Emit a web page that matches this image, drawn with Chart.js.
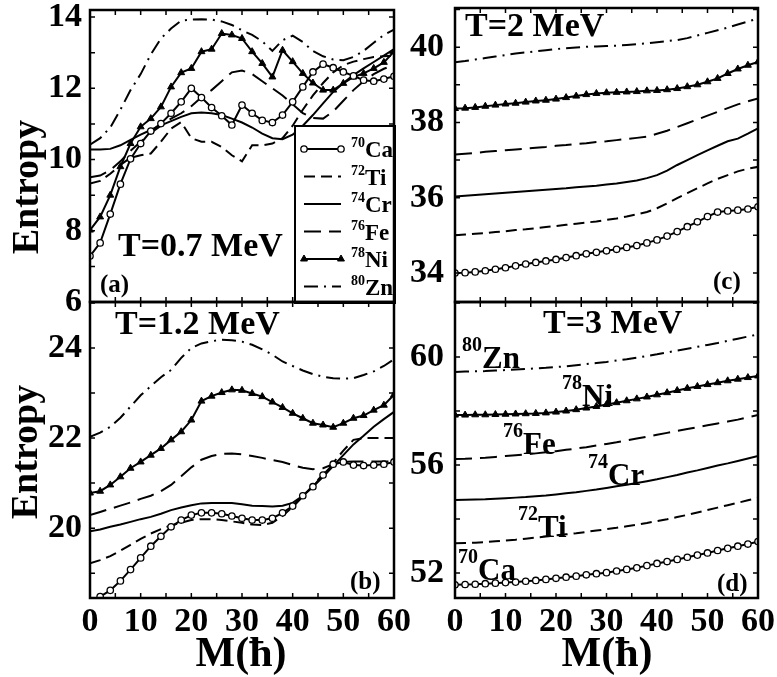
<!DOCTYPE html>
<html>
<head>
<meta charset="utf-8">
<script src="https://cdn.jsdelivr.net/npm/chart.js@4.4.1/dist/chart.umd.min.js"></script>
<style>
  body { margin: 0; background: #fff; }
  #wrap { position: relative; width: 777px; height: 677px; overflow: hidden; }
  canvas { position: absolute; }
</style>
</head>
<body>
<div id="wrap">
  <canvas id="pa" width="420" height="320" style="left:0;top:0;width:420px;height:320px"></canvas>
  <canvas id="pb" width="420" height="382" style="left:0;top:295px;width:420px;height:382px"></canvas>
  <canvas id="pc" width="377" height="320" style="left:400px;top:0;width:377px;height:320px"></canvas>
  <canvas id="pd" width="377" height="382" style="left:400px;top:295px;width:377px;height:382px"></canvas>
</div>
<script>
// angular momentum M (hbar), every 2
const M = [0,2,4,6,8,10,12,14,16,18,20,22,24,26,28,30,32,34,36,38,40,42,44,46,48,50,52,54,56,58,60];
const nuclei = ['Ca','Ti','Cr','Fe','Ni','Zn'];
const massNumbers = [70,72,74,76,78,80];

// (a) T = 0.7 MeV
const caA = [7.29,7.66,8.47,9.31,10.02,10.45,10.8,11.01,11.3,11.62,12.0,11.74,11.46,11.23,10.97,11.53,11.3,11.1,11.04,11.25,11.62,12.04,12.46,12.68,12.58,12.46,12.35,12.23,12.2,12.26,12.34];
const tiA = [9.33,9.4,9.6,9.85,10.05,10.12,10.17,10.5,10.87,11.05,10.6,10.5,10.5,10.35,10.12,9.95,10.4,10.4,10.45,10.6,10.95,11.4,11.8,12.15,12.45,12.65,12.75,12.82,12.88,12.9,12.92];
const crA = [10.28,10.28,10.3,10.4,10.55,10.7,10.83,10.96,11.08,11.2,11.3,11.32,11.3,11.25,11.15,11.04,10.9,10.73,10.6,10.57,10.7,10.95,11.25,11.58,11.9,12.15,12.37,12.56,12.74,12.92,13.1];
const feA = [9.5,9.55,9.7,9.95,10.25,10.5,10.75,10.95,11.15,11.3,11.5,11.75,11.95,12.2,12.45,12.5,12.4,12.2,12.0,11.8,11.55,11.3,11.17,11.15,11.35,11.65,11.95,12.2,12.4,12.55,12.65];
const niA = [8.02,8.39,9.0,9.8,10.45,10.92,11.15,11.48,12.04,12.44,12.56,13.03,13.1,13.54,13.5,13.4,13.03,12.7,12.32,13.07,12.75,12.42,12.15,11.95,11.95,12.14,12.32,12.42,12.56,12.73,13.03];
const znA = [10.42,10.6,10.9,11.4,11.95,12.4,12.95,13.4,13.68,13.9,13.93,13.94,13.93,13.88,13.78,13.63,13.5,13.32,13.05,13.35,13.48,13.3,13.05,12.9,12.81,12.79,12.88,13.05,13.28,13.5,13.65];

// (b) T = 1.2 MeV
const caB = [18.35,18.48,18.62,18.83,19.08,19.34,19.6,19.82,20.03,20.18,20.29,20.34,20.34,20.32,20.27,20.22,20.18,20.18,20.22,20.34,20.49,20.72,20.92,21.18,21.42,21.47,21.4,21.39,21.4,21.42,21.47];
const tiB = [19.22,19.29,19.38,19.5,19.63,19.76,19.88,19.98,20.06,20.12,20.18,20.2,20.2,20.18,20.15,20.12,20.08,20.07,20.12,20.27,20.47,20.7,20.95,21.2,21.45,21.72,21.96,22.0,22.0,22.0,22.0];
const crB = [19.93,19.97,20.03,20.08,20.14,20.2,20.25,20.32,20.4,20.46,20.51,20.55,20.56,20.56,20.56,20.53,20.5,20.49,20.48,20.5,20.56,20.72,20.92,21.14,21.38,21.62,21.86,22.05,22.25,22.42,22.58];
const feB = [20.29,20.36,20.43,20.5,20.57,20.65,20.72,20.82,20.96,21.15,21.35,21.52,21.6,21.65,21.66,21.64,21.6,21.56,21.51,21.47,21.4,21.34,21.31,21.33,21.42,21.47,21.48,21.48,21.48,21.48,21.48];
const niB = [20.78,20.82,20.96,21.14,21.33,21.47,21.62,21.77,21.96,22.14,22.4,22.82,22.93,23.01,23.07,23.06,22.99,22.92,22.8,22.68,22.55,22.44,22.33,22.29,22.24,22.33,22.44,22.5,22.62,22.73,22.96];
const znB = [22.03,22.12,22.25,22.45,22.7,22.95,23.15,23.35,23.51,23.78,24.0,24.1,24.15,24.18,24.17,24.14,24.07,23.97,23.85,23.7,23.6,23.5,23.42,23.36,23.33,23.32,23.33,23.4,23.48,23.6,23.75];

// (c) T = 2 MeV
const caC = [34.0,34.01,34.03,34.06,34.1,34.14,34.19,34.24,34.28,34.32,34.36,34.41,34.46,34.51,34.55,34.59,34.63,34.68,34.73,34.8,34.88,34.98,35.1,35.23,35.36,35.5,35.62,35.65,35.67,35.7,35.76];
const tiC = [35.0,35.02,35.04,35.06,35.09,35.11,35.14,35.16,35.19,35.22,35.25,35.28,35.31,35.34,35.37,35.41,35.45,35.5,35.56,35.62,35.72,35.85,35.99,36.12,36.25,36.38,36.5,36.6,36.7,36.77,36.82];
const crC = [36.03,36.05,36.07,36.09,36.11,36.13,36.15,36.17,36.19,36.21,36.23,36.25,36.28,36.3,36.32,36.35,36.38,36.42,36.46,36.52,36.6,36.72,36.87,37.0,37.13,37.26,37.38,37.5,37.57,37.7,37.84];
const feC = [37.15,37.17,37.19,37.22,37.24,37.26,37.28,37.3,37.33,37.35,37.38,37.4,37.43,37.45,37.48,37.5,37.53,37.56,37.59,37.62,37.7,37.78,37.88,37.98,38.08,38.18,38.28,38.38,38.48,38.56,38.64];
const niC = [38.37,38.38,38.4,38.43,38.46,38.49,38.51,38.54,38.57,38.59,38.62,38.66,38.7,38.74,38.77,38.79,38.8,38.81,38.82,38.84,38.85,38.87,38.9,38.95,39.0,39.08,39.17,39.3,39.42,39.52,39.61];
const znC = [39.6,39.63,39.67,39.71,39.75,39.79,39.83,39.86,39.89,39.92,39.95,39.97,39.99,40.01,40.02,40.03,40.04,40.06,40.08,40.1,40.13,40.16,40.19,40.24,40.31,40.38,40.45,40.52,40.6,40.68,40.76];

// (d) T = 3 MeV
const caD = [51.56,51.57,51.58,51.6,51.62,51.64,51.66,51.69,51.72,51.76,51.8,51.84,51.88,51.93,51.97,52.01,52.07,52.13,52.19,52.27,52.35,52.42,52.5,52.58,52.66,52.74,52.83,52.91,52.99,53.07,53.16];
const tiD = [53.1,53.11,53.12,53.14,53.17,53.2,53.23,53.27,53.31,53.35,53.39,53.43,53.47,53.52,53.57,53.62,53.67,53.73,53.79,53.85,53.92,53.99,54.07,54.15,54.24,54.33,54.42,54.51,54.6,54.69,54.78];
const crD = [54.7,54.71,54.72,54.73,54.75,54.77,54.79,54.81,54.84,54.87,54.91,54.95,54.99,55.04,55.09,55.15,55.21,55.27,55.33,55.4,55.47,55.55,55.63,55.72,55.8,55.89,55.98,56.06,56.15,56.24,56.33];
const feD = [56.22,56.23,56.25,56.27,56.3,56.33,56.36,56.39,56.43,56.47,56.51,56.56,56.61,56.66,56.72,56.78,56.84,56.91,56.98,57.05,57.12,57.19,57.26,57.33,57.4,57.47,57.54,57.61,57.68,57.77,57.85];
const niD = [57.85,57.85,57.86,57.86,57.87,57.88,57.89,57.9,57.91,57.93,57.96,58.0,58.05,58.11,58.17,58.24,58.31,58.38,58.45,58.52,58.6,58.68,58.76,58.84,58.91,58.98,59.05,59.12,59.18,59.24,59.3];
const znD = [59.45,59.46,59.47,59.48,59.5,59.52,59.54,59.56,59.58,59.6,59.63,59.66,59.7,59.74,59.78,59.82,59.87,59.92,59.98,60.04,60.1,60.17,60.24,60.31,60.38,60.45,60.52,60.6,60.68,60.76,60.84];

// tick labels
const xTicks = [0,10,20,30,40,50,60];
const yTicksA = [6,8,10,12,14];
const yTicksB = [20,22,24];
const yTicksC = [34,36,38,40];
const yTicksD = [52,56,60];

const FONT = '"Liberation Serif", "Times New Roman", serif';
Chart.defaults.font.family = FONT;
Chart.defaults.font.weight = 'bold';
Chart.defaults.color = '#000';

const lineStyle = {
  Ca: { borderDash: [], pointStyle: 'circle', pointRadius: 3.2, pointBorderWidth: 1.3, pointBackgroundColor: '#fff' },
  Ti: { borderDash: [11, 6], pointRadius: 0 },
  Cr: { borderDash: [], pointRadius: 0 },
  Fe: { borderDash: [17, 8], pointRadius: 0 },
  Ni: { borderDash: [], pointStyle: 'triangle', pointRadius: 4, pointBorderWidth: 1, pointBackgroundColor: '#000' },
  Zn: { borderDash: [14, 6, 2, 6], pointRadius: 0 }
};

function makeDatasets(series) {
  return series.map((vals, i) => Object.assign({
    label: nuclei[i],
    mass: massNumbers[i],
    data: M.map((m, j) => ({ x: m, y: vals[j] })),
    borderColor: '#000',
    pointBorderColor: '#000',
    borderWidth: 2,
    tension: 0
  }, lineStyle[nuclei[i]]));
}

function drawNote(ctx, n, ox, oy) {
  ctx.save();
  ctx.translate(n.x - ox, n.y - oy);
  if (n.rot) ctx.rotate(n.rot * Math.PI / 180);
  ctx.fillStyle = '#000';
  const mainFont = 'bold ' + n.size + 'px ' + FONT;
  const supSize = n.supSize || Math.round(n.size * 0.64);
  const supFont = 'bold ' + supSize + 'px ' + FONT;
  ctx.font = mainFont;
  const w = ctx.measureText(n.text).width;
  let sw = 0;
  if (n.sup) { ctx.font = supFont; sw = ctx.measureText(n.sup).width; }
  const x0 = n.center ? -(w + sw) / 2 : 0;
  ctx.textBaseline = n.center ? 'middle' : 'alphabetic';
  if (n.sup) {
    ctx.font = supFont;
    ctx.fillText(n.sup, x0, -(n.supUp || n.size * 0.55));
  }
  ctx.font = mainFont;
  ctx.fillText(n.text, x0 + sw, 0);
  ctx.restore();
}

function drawLegend(chart, lg, ox, oy) {
  const ctx = chart.ctx;
  const bx = lg.x - ox, by = lg.y - oy;
  ctx.save();
  ctx.fillStyle = '#fff';
  ctx.fillRect(bx, by, lg.w, lg.h);
  ctx.lineWidth = 2;
  ctx.strokeStyle = '#000';
  ctx.setLineDash([]);
  ctx.strokeRect(bx, by, lg.w, lg.h);
  chart.data.datasets.forEach((ds, i) => {
    const y = lg.rows[i] - oy;
    const x1 = bx + 9, x2 = bx + 46;
    ctx.strokeStyle = '#000';
    ctx.lineWidth = ds.borderWidth;
    ctx.setLineDash(ds.borderDash || []);
    ctx.beginPath();
    ctx.moveTo(x1, y); ctx.lineTo(x2, y);
    ctx.stroke();
    ctx.setLineDash([]);
    if (ds.pointRadius > 0) {
      ctx.fillStyle = ds.pointBackgroundColor;
      ctx.lineWidth = ds.pointBorderWidth;
      const pt = { pointStyle: ds.pointStyle, radius: ds.pointRadius, borderWidth: ds.pointBorderWidth, rotation: 0 };
      Chart.helpers.drawPoint(ctx, pt, x1, y);
      Chart.helpers.drawPoint(ctx, pt, x2, y);
    }
    drawNote(ctx, { text: ds.label, sup: String(ds.mass), x: lg.x + 56, y: lg.rows[i] + 8, size: 23, supSize: 14, supUp: 10 }, ox, oy);
  });
  ctx.restore();
}

const inkPlugin = {
  id: 'ink',
  afterDraw(chart, args, o) {
    const ctx = chart.ctx, a = chart.chartArea;
    const xs = chart.scales.x, ys = chart.scales.y;
    ctx.save();
    ctx.strokeStyle = '#000';
    ctx.setLineDash([]);
    ctx.lineWidth = 1.5;
    ctx.beginPath();
    for (let v = 0; v <= 60; v += o.xStep) {
      const p = xs.getPixelForValue(v);
      ctx.moveTo(p, a.bottom); ctx.lineTo(p, a.bottom - 5);
      ctx.moveTo(p, a.top); ctx.lineTo(p, a.top + 5);
    }
    for (let v = Math.ceil(ys.min / o.yStep) * o.yStep; v <= ys.max; v += o.yStep) {
      const p = ys.getPixelForValue(v);
      ctx.moveTo(a.left, p); ctx.lineTo(a.left + 5, p);
      ctx.moveTo(a.right, p); ctx.lineTo(a.right - 5, p);
    }
    ctx.stroke();
    if (o.legend) drawLegend(chart, o.legend, o.ox, o.oy);
    ctx.lineWidth = 2.5;
    ctx.strokeStyle = '#000';
    ctx.strokeRect(a.left, a.top, a.right - a.left, a.bottom - a.top);
    (o.notes || []).forEach(n => drawNote(ctx, n, o.ox, o.oy));
    ctx.restore();
  }
};

// drop the extra room chart.js keeps for half tick labels at the ends
function noEdgePad(s) {
  s.paddingTop = 0; s.paddingBottom = 0; s.paddingLeft = 0; s.paddingRight = 0;
}

function panel(id, series, cfg) {
  return new Chart(document.getElementById(id), {
    type: 'line',
    data: { datasets: makeDatasets(series) },
    plugins: [inkPlugin],
    options: {
      responsive: false,
      animation: false,
      events: [],
      layout: { padding: cfg.padding },
      plugins: {
        legend: { display: false },
        tooltip: { enabled: false },
        ink: cfg.ink
      },
      scales: {
        x: {
          type: 'linear', min: 0, max: 60,
          display: cfg.showX,
          grid: { display: false, drawTicks: false },
          border: { display: false },
          ticks: { font: { size: 34 }, padding: 4, maxRotation: 0, autoSkip: false },
          afterBuildTicks: s => { s.ticks = xTicks.map(v => ({ value: v })); },
          afterFit: s => { noEdgePad(s); if (cfg.showX) s.height = 79; }
        },
        y: {
          type: 'linear', min: cfg.yMin, max: cfg.yMax,
          grid: { display: false, drawTicks: false },
          border: { display: false },
          ticks: { font: { size: 34 }, padding: cfg.yPad, autoSkip: false },
          afterBuildTicks: s => { s.ticks = cfg.yTicks.map(v => ({ value: v })); },
          afterFit: s => { noEdgePad(s); s.width = cfg.yWidth; }
        }
      }
    }
  });
}

panel('pa', [caA, tiA, crA, feA, niA, znA], {
  yMin: 6, yMax: 14.2, yTicks: yTicksA, yWidth: 90, yPad: 8, showX: false,
  padding: { left: 0, top: 10, right: 26, bottom: 18 },
  ink: {
    ox: 0, oy: 0, xStep: 5, yStep: 1,
    legend: { x: 295, y: 126, w: 100, h: 177, rows: [149, 176.5, 204, 231.5, 259, 286.5] },
    notes: [
      { text: 'T=0.7 MeV', x: 118, y: 256, size: 34 },
      { text: '(a)', x: 100, y: 292, size: 25 },
      { text: 'Entropy', x: 28, y: 187, size: 38, rot: -90, center: true }
    ]
  }
});

panel('pb', [caB, tiB, crB, feB, niB, znB], {
  yMin: 18.45, yMax: 25.02, yTicks: yTicksB, yWidth: 90, yPad: 8, showX: true,
  padding: { left: 0, top: 7, right: 26, bottom: 0 },
  ink: {
    ox: 0, oy: 295, xStep: 5, yStep: 1,
    notes: [
      { text: 'T=1.2 MeV', x: 115, y: 334, size: 34 },
      { text: '(b)', x: 350, y: 589, size: 25 },
      { text: 'Entropy', x: 27, y: 452, size: 38, rot: -90, center: true },
      { text: 'M(ħ)', x: 241, y: 655, size: 42, center: true }
    ]
  }
});

panel('pc', [caC, tiC, crC, feC, niC, znC], {
  yMin: 33.23, yMax: 41.04, yTicks: yTicksC, yWidth: 55, yPad: 11, showX: false,
  padding: { left: 0, top: 8, right: 19, bottom: 18 },
  ink: {
    ox: 400, oy: 0, xStep: 5, yStep: 1,
    notes: [
      { text: 'T=2 MeV', x: 465, y: 36, size: 34 },
      { text: '(c)', x: 713, y: 289, size: 25 }
    ]
  }
});

panel('pd', [caD, tiD, crD, feD, niD, znD], {
  yMin: 51.07, yMax: 62.04, yTicks: yTicksD, yWidth: 55, yPad: 11, showX: true,
  padding: { left: 0, top: 7, right: 19, bottom: 0 },
  ink: {
    ox: 400, oy: 295, xStep: 5, yStep: 2,
    notes: [
      { text: 'T=3 MeV', x: 543, y: 333, size: 34 },
      { text: '(d)', x: 717, y: 591, size: 25 },
      { text: 'M(ħ)', x: 607, y: 655, size: 42, center: true },
      { text: 'Zn', sup: '80', x: 462, y: 368, size: 31, supSize: 20 },
      { text: 'Ni', sup: '78', x: 562, y: 406, size: 31, supSize: 20 },
      { text: 'Fe', sup: '76', x: 503, y: 454, size: 31, supSize: 20 },
      { text: 'Cr', sup: '74', x: 588, y: 485, size: 31, supSize: 20 },
      { text: 'Ti', sup: '72', x: 518, y: 537, size: 31, supSize: 20 },
      { text: 'Ca', sup: '70', x: 458, y: 580, size: 31, supSize: 20 }
    ]
  }
});
</script>
</body>
</html>
